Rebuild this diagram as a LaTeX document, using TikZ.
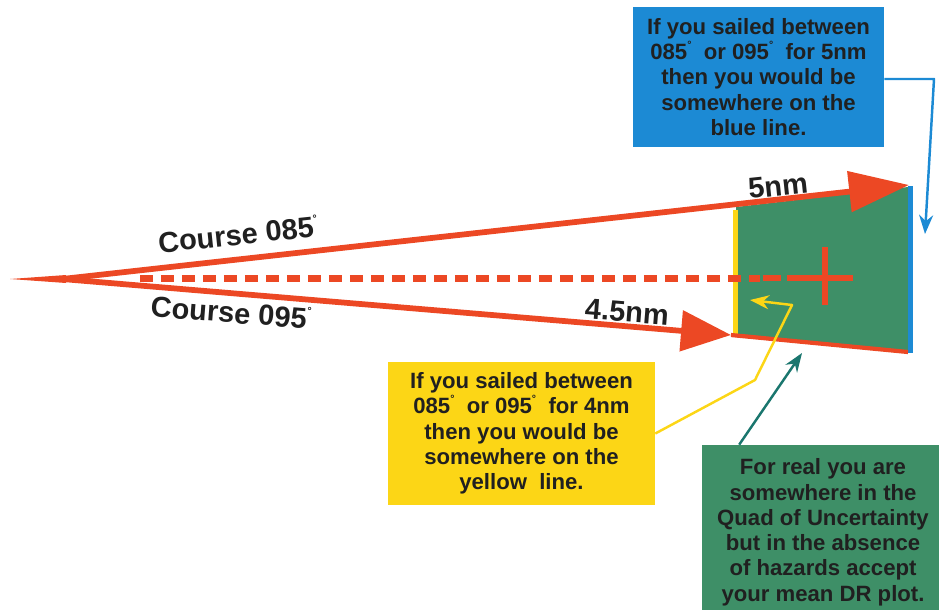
\documentclass[tikz,border=0pt]{standalone}
\usepackage{fontspec}
\setmainfont{Liberation Sans}
\usetikzlibrary{arrows.meta,calc}
\definecolor{drred}{RGB}{236,72,36}
\definecolor{seablue}{RGB}{28,138,212}
\definecolor{quadgreen}{RGB}{62,143,103}
\definecolor{noteyellow}{RGB}{252,214,22}
\definecolor{linkteal}{RGB}{26,118,110}
\definecolor{ink}{RGB}{32,32,32}
\newcommand{\degmark}{\raisebox{0.5em}{\fontsize{6}{6}\selectfont °}}
\begin{document}
\begin{tikzpicture}[x=0.02cm,y=-0.02cm,line join=round,
		course/.style={draw=drred,line width=0.115cm},
		linelabel/.style={text=ink,font=\fontsize{16.5}{18}\bfseries\selectfont,inner sep=0pt},
		notebox/.style={text=ink,font=\fontsize{12.6}{14.4}\bfseries\selectfont,align=center,inner sep=0pt},
		link/.style={line width=1.4pt,-{Stealth[length=0.38cm,width=0.28cm]}}]
	\useasboundingbox (0,0) rectangle (939,609);
	\coordinate (O) at (10,279);
	\coordinate (S) at (62,279);
	\coordinate (T5) at (909,185);
	\coordinate (T4) at (731,335);
	\coordinate (Q1) at (736,207);
	\coordinate (Q2) at (908,187);
	\coordinate (Q3) at (908,352);
	\coordinate (Q4) at (736,337);
	\coordinate (DR) at (825,277);
	% quad of uncertainty
	\fill[quadgreen] (Q1)--(Q2)--(Q3)--(Q4)--cycle;
	\draw[noteyellow,line width=0.1cm] (735,210)--(735,335);
	\draw[seablue,line width=0.1cm] (910,186)--(910,353);
	\draw[drred,line width=2.4pt] (T4)--(Q3);
	% courses
	\fill[drred] (O)--($(S)+(4,-4)$)--($(S)+(4,4)$)--cycle;
	\draw[course,-{Triangle[length=1.2cm,width=0.8cm]}] (S)--(T5);
	\draw[course,-{Triangle[length=1cm,width=0.8cm]}] (S)--(T4);
	\draw[drred,line width=0.14cm,dash pattern=on 0.26cm off 0.16cm] (140,278)--(760,278);
	\draw[drred,line width=0.12cm] (763,278)--(781,278);
	\draw[drred,line width=0.12cm] (787,278)--(853,278) (825,247)--(825,305);
	\node[linelabel,rotate=6] (c085) at (238,234) {Course 085\degmark};
	\node[linelabel,rotate=-4.5] (c095) at (231,312) {Course 095\degmark};
	\node[linelabel,rotate=6] (d5) at (778,186) {5nm};
	\node[linelabel,rotate=-4.5] (d45) at (627,312) {4.5nm};
	% notes
	\node[notebox,fill=seablue,minimum width=5.02cm,minimum height=2.8cm] (blue) at (758.5,77)
		{If you sailed between\\085\degmark\ \ or 095\degmark\ \ for 5nm\\then you would be\\somewhere on the\\blue line.};
	\node[notebox,fill=noteyellow,minimum width=5.34cm,minimum height=2.86cm] (yellow) at (521.5,433.5)
		{If you sailed between\\085\degmark\ \ or 095\degmark\ \ for 4nm\\then you would be\\somewhere on the\\yellow\ \ line.};
	\node[notebox,fill=quadgreen,minimum width=4.86cm,minimum height=3.4cm,text depth=0pt] (green) at (823,530)
		{For real you are\\somewhere in the\\Quad of Uncertainty\\but in the absence\\of hazards accept\\your mean DR plot.};
	% connectors
	\coordinate (bturn) at (934,79);
	\coordinate (btip) at (925,234);
	\draw[link,seablue] (blue.east |- bturn)--(bturn)--(btip);
	\coordinate (ybend1) at (755,380);
	\coordinate (ybend2) at (792,305);
	\coordinate (ytip) at (750,300);
	\draw[link,noteyellow] (yellow.east)--(ybend1)--(ybend2)--(ytip);
	\coordinate (gtip) at (802,353);
	\draw[link,linkteal] ($(green.north west)+(38,0)$)--(gtip);
\end{tikzpicture}
\end{document}
